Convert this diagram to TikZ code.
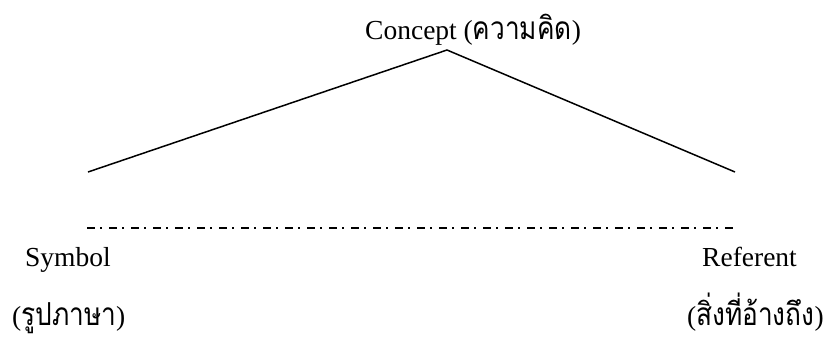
\documentclass[tikz,border=0pt]{standalone}
\usepackage{fontspec}
\setmainfont{Liberation Serif}
\newfontfamily\thaifont[Script=Thai,Scale=1.15,FakeStretch=0.83]{Loma}
\begin{document}
\begin{tikzpicture}[x=1pt,y=-1pt,
  lbl/.style={inner sep=0pt,anchor=base west,font=\fontsize{27.5}{33}\selectfont},
  edge/.style={line width=1.5pt},
  guide/.style={line width=1.5pt,dash pattern=on 8pt off 5pt on 2pt off 7pt}]
  \useasboundingbox (0,0) rectangle (832,338);
  % labels
  \node[lbl] (concept) at (365,39) {Concept ({\thaifont ความคิด})};
  \node[lbl] (symbol) at (25,266) {Symbol};
  \node[lbl] (symth) at (12,325) {({\thaifont รูปภาษา})};
  \node[lbl] (referent) at (702,266) {Referent};
  \node[lbl] (refth) at (687,325) {({\thaifont สิ่งที่อ้างถึง})};
  % triangle sides
  \coordinate (apex) at (447,50);
  \coordinate (left) at (88,172);
  \coordinate (right) at (735,172);
  \draw[edge] (left) -- (apex) -- (right);
  % dash-dot base line
  \coordinate (bl) at (87,228);
  \coordinate (br) at (735,228);
  \draw[guide] (bl) -- (br);
\end{tikzpicture}
\end{document}
